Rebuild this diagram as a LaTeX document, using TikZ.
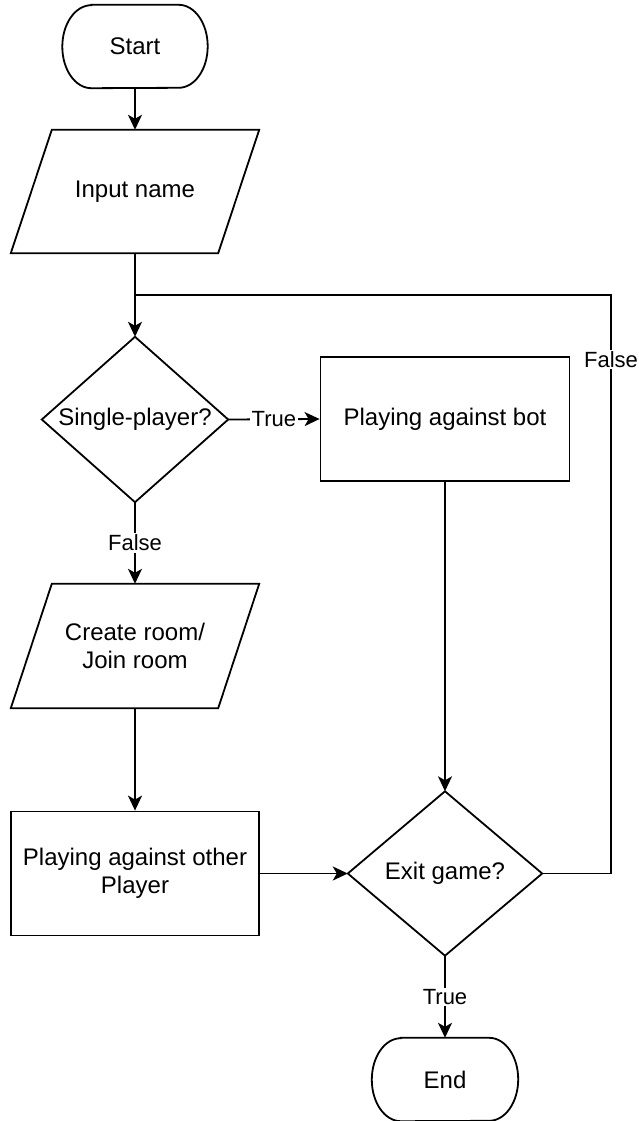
\documentclass[tikz,border=0pt]{standalone}
\usepackage{fontspec}
\setmainfont{Liberation Sans}
\usetikzlibrary{arrows.meta}
\newcommand\drawterminal[1]{%
  \draw[outline] ([xshift=29pt]#1.north west) -- ([xshift=-29pt]#1.north east)
    arc[start angle=90,end angle=-90,x radius=29pt,y radius=41.5pt]
    -- ([xshift=29pt]#1.south west)
    arc[start angle=270,end angle=90,x radius=29pt,y radius=41.5pt] -- cycle;}
\newcommand\drawparallel[1]{%
  \draw[outline] (#1.south west) -- ([xshift=-41pt]#1.south east) -- (#1.north east)
    -- ([xshift=41pt]#1.north west) -- cycle;}
\newcommand\drawdiamond[1]{%
  \draw[outline] (#1.north) -- (#1.east) -- (#1.south) -- (#1.west) -- cycle;}
\begin{document}
\begin{tikzpicture}[x=1pt,y=-1pt,
  outline/.style={line width=1.8pt, line join=miter},
  txt/.style={inner sep=0pt, align=center, font=\fontsize{24}{28}\selectfont},
  procbox/.style={txt, draw, line width=1.8pt, minimum width=249pt, minimum height=124pt},
  conn/.style={line width=1.8pt},
  arr/.style={conn, -{Stealth[length=15pt,width=14pt,inset=4pt]}},
  lbl/.style={fill=white, inner sep=1.5pt, font=\fontsize{22}{26}\selectfont}]
\useasboundingbox (0,0) rectangle (639,1121);

\node[txt, minimum width=145pt, minimum height=83pt] (start) at (135,46.5) {Start};
\node[txt, minimum width=248pt, minimum height=123pt] (input) at (135,191.5) {Input name};
\node[txt, minimum width=186pt, minimum height=165pt] (d1) at (135,419.5) {Single-player?};
\node[procbox] (bot) at (445,419) {Playing against bot};
\node[txt, minimum width=248pt, minimum height=124pt] (create) at (135,646) {Create room/\\Join room};
\node[procbox, minimum width=248pt] (other) at (135,873.5) {Playing against other\\Player};
\node[txt, minimum width=194pt, minimum height=164pt] (d2) at (445,873.5) {Exit game?};
\node[txt, minimum width=146pt, minimum height=83pt] (end) at (445,1079.5) {End};

\drawterminal{start}
\drawterminal{end}
\drawparallel{input}
\drawparallel{create}
\drawdiamond{d1}
\drawdiamond{d2}

\coordinate (j) at (135,295);
\coordinate (c1) at (611,873.5);
\coordinate (c2) at (611,295);

\draw[arr] (start.south) -- (input.north);
\draw[conn] (input.south) -- (j);
\draw[arr] (j) -- (d1.north);
\draw[arr] (d1.east) -- node[lbl]{True} (bot.west);
\draw[arr] (d1.south) -- node[lbl]{False} (create.north);
\draw[arr] (create.south) -- (other.north);
\draw[arr] (other.east) -- (d2.west);
\draw[arr] (bot.south) -- (d2.north);
\draw[arr] (d2.south) -- node[lbl]{True} (end.north);
\draw[conn] (d2.east) -- (c1) -- node[lbl, pos=0.888]{False} (c2) -- (j);
\end{tikzpicture}
\end{document}
